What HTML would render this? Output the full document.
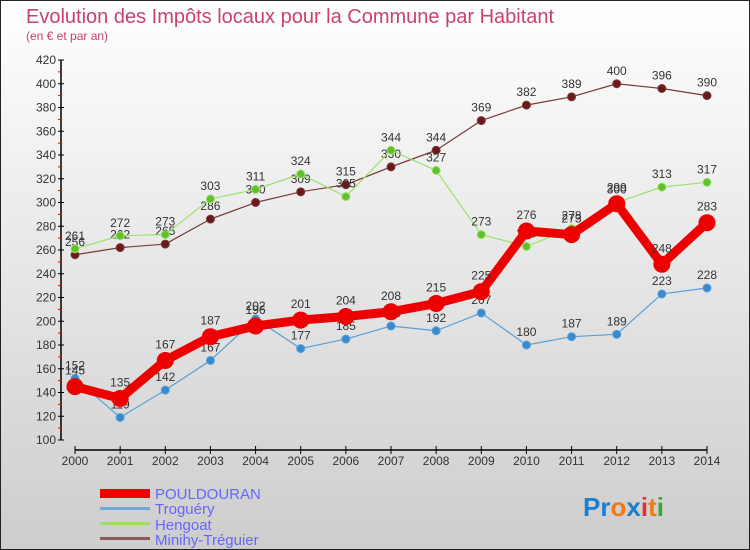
<!DOCTYPE html>
<html><head><meta charset="utf-8"><style>
html,body{margin:0;padding:0;width:750px;height:550px;overflow:hidden}
svg{display:block;font-family:"Liberation Sans",sans-serif}
</style></head><body>
<svg id="c" width="750" height="550">
<defs><linearGradient id="bg" x1="0" y1="0" x2="0" y2="1"><stop offset="0" stop-color="#ffffff"/><stop offset="1" stop-color="#cdcdcd"/></linearGradient></defs>
<rect x="0.5" y="0.5" width="749" height="549" fill="url(#bg)" stroke="#222"/>
<text x="26" y="23" font-size="20" fill="#c8426a">Evolution des Impôts locaux pour la Commune par Habitant</text>
<text x="26" y="40" font-size="12" fill="#c8426a">(en € et par an)</text>
<g id="axes"></g><g id="series"></g>
<g>
<rect x="100" y="489" width="50" height="9" fill="#ee0000"/>
<text x="155" y="499" font-size="15" fill="#6666ff">POULDOURAN</text>
<rect x="100" y="507" width="50" height="3" fill="#6fa7d6"/>
<text x="155" y="514" font-size="15" fill="#6666ff">Troguéry</text>
<rect x="100" y="522" width="50" height="3" fill="#9be06a"/>
<text x="155" y="530" font-size="15" fill="#6666ff">Hengoat</text>
<rect x="100" y="537" width="50" height="3" fill="#8a5a5a"/>
<text x="155" y="545" font-size="15" fill="#6666ff">Minihy-Tréguier</text>
</g>
<g font-size="26" font-weight="bold">
<text x="583" y="516"><tspan fill="#1a7fd0">Pr</tspan><tspan fill="#f07b12">o</tspan><tspan fill="#1a7fd0">x</tspan><tspan fill="#e03030">i</tspan><tspan fill="#f07b12">t</tspan><tspan fill="#38a838">i</tspan></text>
</g>
</svg>
<script>
const years=[2000,2001,2002,2003,2004,2005,2006,2007,2008,2009,2010,2011,2012,2013,2014];
const yTicks=[100,120,140,160,180,200,220,240,260,280,300,320,340,360,380,400,420];
const pouldouran=[145,135,167,187,196,201,204,208,215,225,276,273,299,248,283];
const troguery=[152,119,142,167,202,177,185,196,192,207,180,187,189,223,228];
const hengoat=[261,272,273,303,311,324,305,344,327,273,263,278,300,313,317];
const minihy=[256,262,265,286,300,309,315,330,344,369,382,389,400,396,390];
const NS='http://www.w3.org/2000/svg';
function X(i){return 75+i*(707-75)/(years.length-1);}
function Y(v){return 440-(v-100)*(380/320);}
function mk(t,a,p){const e=document.createElementNS(NS,t);for(const k in a)e.setAttribute(k,a[k]);p.appendChild(e);return e;}
const ax=document.getElementById('axes');
const yl=mk('line',{x1:61,y1:60,x2:61,y2:440,stroke:'#000','stroke-width':1.5},ax);


yTicks.forEach((v,i)=>{
 mk('line',{x1:58,y1:Y(v),x2:64,y2:Y(v),stroke:'#000'},ax);
 if(i<yTicks.length-1) mk('line',{x1:58,y1:Y(v+10),x2:62,y2:Y(v+10),stroke:'#e00'},ax);
 const t=mk('text',{x:56,y:Y(v)+4,'text-anchor':'end','font-size':12,fill:'#333'},ax);t.textContent=v;
 
 
});
const xl=mk('line',{x1:75,y1:450,x2:707,y2:450,stroke:'#000','stroke-width':1.5},ax);


years.forEach((y,i)=>{
 mk('line',{x1:X(i),y1:446,x2:X(i),y2:454,stroke:'#000'},ax);
 const t=mk('text',{x:X(i),y:465,'text-anchor':'middle','font-size':12,fill:'#333'},ax);t.textContent=y;
 
 
});
const sg=document.getElementById('series');
function draw(vals,name,col,dot,w,r){
 const g=mk('g',{},sg);
 
 
 const pl=mk('polyline',{points:vals.map((v,i)=>X(i)+','+Y(v)).join(' '),fill:'none',stroke:col,'stroke-width':w,'stroke-linejoin':'round'},g);
 
 
 vals.forEach((v,i)=>{
  const c=mk('circle',{cx:X(i),cy:Y(v),r:r,fill:dot,stroke:col,'stroke-width':1},g);
  
  
  const t=mk('text',{x:X(i),y:Y(v)-9-(r>5?3:0),'text-anchor':'middle','font-size':12,fill:'#333'},g);t.textContent=v;
  
  
 });
}
draw(minihy,'minihy-treguier','#7a3a3a','#6b1a1a',1.2,4);
draw(hengoat,'hengoat','#9be06a','#5fc02a',1.2,4);
draw(troguery,'troguery','#5a9fd6','#3a8ad0',1.2,4);
draw(pouldouran,'pouldouran','#ee0000','#ee0000',9,8);
</script>
</body></html>
